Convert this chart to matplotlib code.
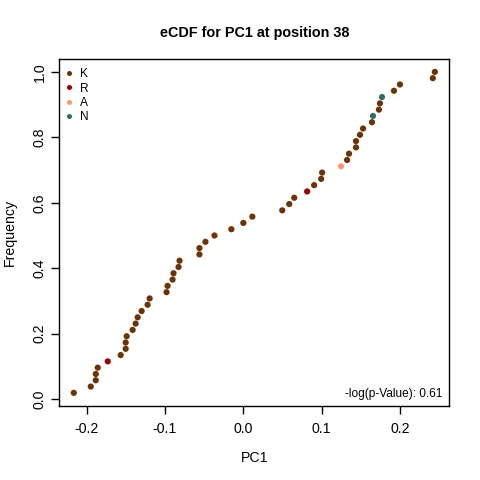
import numpy as np
import matplotlib
matplotlib.use("Agg")
import matplotlib.pyplot as plt
from matplotlib.lines import Line2D

plt.rcParams['font.family'] = ['Liberation Sans', 'DejaVu Sans']

# PC1 values (sorted) and residue at each point
pc1 = [-0.2166, -0.1949, -0.1885, -0.1885, -0.1860, -0.1732, -0.1567, -0.1503,
       -0.1503, -0.1490, -0.1414, -0.1376, -0.1350, -0.1299, -0.1223, -0.1197,
       -0.0981, -0.0968, -0.0904, -0.0892, -0.0828, -0.0815, -0.0561, -0.0561,
       -0.0484, -0.0369, -0.0153, 0.0000, 0.0115, 0.0497, 0.0586, 0.0650,
       0.0815, 0.0904, 0.0994, 0.1006, 0.1248, 0.1325, 0.1350, 0.1439,
       0.1439, 0.1490, 0.1529, 0.1643, 0.1656, 0.1732, 0.1745, 0.1771,
       0.1924, 0.2000, 0.2420, 0.2446]
residue = ['K', 'K', 'K', 'K', 'K', 'R', 'K', 'K', 'K', 'K', 'K', 'K', 'K',
           'K', 'K', 'K', 'K', 'K', 'K', 'K', 'K', 'K', 'K', 'K', 'K', 'K',
           'K', 'K', 'K', 'K', 'K', 'K', 'R', 'K', 'K', 'K', 'A', 'K', 'K',
           'K', 'K', 'K', 'K', 'K', 'N', 'K', 'K', 'N', 'K', 'K', 'K', 'K']
legend_labels = ['K', 'R', 'A', 'N']
legend_colors = ['#6B3306', '#990000', '#FF9966', '#336B6B']
title = 'eCDF for PC1 at position 38'
pvalue_text = '-log(p-Value): 0.61'
x_ticks = [-0.2, -0.1, 0.0, 0.1, 0.2]
y_ticks = [0.0, 0.2, 0.4, 0.6, 0.8, 1.0]

color_map = dict(zip(legend_labels, legend_colors))
x = np.sort(np.array(pc1))
n = len(x)
freq = np.arange(1, n + 1) / n
cols = [color_map[r] for r in residue]

fig = plt.figure(figsize=(4.8, 4.8), dpi=100)
ax = fig.add_axes([0.1236, 0.1548, 0.8124, 0.7222])
ax.scatter(x, freq, c=cols, s=20, linewidths=0, zorder=3)

xr = x.max() - x.min()
ax.set_xlim(x.min() - 0.04 * xr, x.max() + 0.04 * xr)
yr = freq.max() - freq.min()
ax.set_ylim(freq.min() - 0.04 * yr, freq.max() + 0.04 * yr)

ax.set_xticks(x_ticks)
ax.set_xticklabels(['%.1f' % v for v in x_ticks])
ax.set_yticks(y_ticks)
ax.set_yticklabels(['%.1f' % v for v in y_ticks], rotation=90, va='center')
ax.tick_params(axis='both', length=6, width=1, labelsize=10.2, color='black', direction='out')
ax.tick_params(axis='x', pad=6)
ax.tick_params(axis='y', pad=3)
for s in ax.spines.values():
    s.set_linewidth(1)
    s.set_color('black')

ax.set_xlabel('PC1', fontsize=10.2, labelpad=10.5)
ax.set_ylabel('Frequency', fontsize=10.2, labelpad=11.5)
ax.set_title(title, fontsize=10.4, fontweight='bold', pad=16)

handles = [Line2D([0], [0], marker='o', linestyle='none', markersize=3.6,
                  markerfacecolor=c, markeredgewidth=0) for c in legend_colors]
ax.legend(handles, legend_labels, loc='upper left', bbox_to_anchor=(0.0133, 0.973),
          frameon=False, fontsize=8.6,
          handlelength=0.8, handletextpad=0.5, labelspacing=0.19,
          borderaxespad=0, borderpad=0)

ax.text(0.983, 0.025, pvalue_text, transform=ax.transAxes, ha='right', va='baseline',
        fontsize=8.6)

fig.savefig('out.png', dpi=100)
